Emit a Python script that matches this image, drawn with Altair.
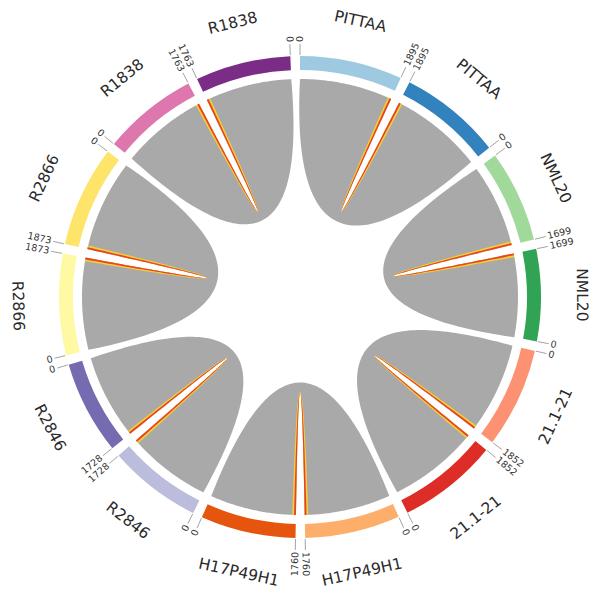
import numpy as np
import pandas as pd
import altair as alt

# ---------------- data ----------------
names = ["PITTAA", "NML20", "21.1-21", "H17P49H1", "R2846", "R2866", "R1838"]
lengths = [1895, 1699, 1852, 1760, 1728, 1873, 1763]
colors_first = ["#9ecae1", "#a1d99b", "#fc9272", "#fdae6b", "#bcbddc", "#fff9a3", "#de77ae"]
colors_second = ["#3182bd", "#31a354", "#de2d26", "#e6550d", "#756bb1", "#fee468", "#7b2c87"]
link_color = "#a9a9a9"
edge_spans = [72, 38]            # width (in sequence units) of highlighted link ends
edge_colors = ["#f5d130", "#e8432a"]
gap = 176                         # gap between segments (sequence units)

# ---------------- layout parameters ----------------
R_OUT, R_IN, R_LINK = 241, 227, 218
BEZ_SHIFT = 28
W, H = 584, 581
CX, CY = 292, 289

segs = []
cur = 0
for i, (nm, L) in enumerate(zip(names, lengths)):
    for k, col in enumerate([colors_first[i], colors_second[i]]):
        segs.append(dict(name=nm, pair=i, copy=k, L=L, start=cur, end=cur + L, color=col))
        cur += L + gap
total = cur
seg_df = pd.DataFrame(segs)


def deg(u):
    return u / total * 360.0


def pt(theta, r):
    t = np.radians(theta)
    return np.array([r * np.sin(t), r * np.cos(t)])


def arc_pts(t0, t1, r, n=60):
    return [pt(t, r) for t in np.linspace(t0, t1, n)]


def bez_pts(t0, t1, r, n=90):
    p0, p2 = pt(t0, r), pt(t1, r)
    m = (p0 + p2) / 2
    mu = m / np.linalg.norm(m)
    c = -BEZ_SHIFT * mu
    s = np.linspace(0, 1, n)[:, None]
    return list((1 - s) ** 2 * p0 + 2 * (1 - s) * s * c + s ** 2 * p2)


def ribbon(i, p0, p1):
    a = segs[2 * i]
    b = segs[2 * i + 1]
    ta = lambda p: deg(a["start"] + p)
    tb = lambda p: deg(b["end"] - p)
    pts = (arc_pts(ta(p0), ta(p1), R_LINK) + bez_pts(ta(p1), tb(p1), R_LINK)
           + arc_pts(tb(p1), tb(p0), R_LINK) + bez_pts(tb(p0), ta(p0), R_LINK))
    return pts


def ribbon_df(kind_rows):
    rows = []
    for rid, (i, p0, p1, col) in enumerate(kind_rows):
        for j, (x, y) in enumerate(ribbon(i, p0, p1)):
            rows.append(dict(rid=rid, ord=j, x=x, y=y, col=col))
    return pd.DataFrame(rows)


gray_df = ribbon_df([(i, 0, L, link_color) for i, L in enumerate(lengths)])
edge_dfs = [ribbon_df([(i, L - w, L, c) for i, L in enumerate(lengths)])
            for w, c in zip(edge_spans, edge_colors)]

# ticks
ticks = []
for s in segs:
    for pos_u, lab in [(s["start"], 0 if s["copy"] == 0 else s["L"]),
                       (s["end"], s["L"] if s["copy"] == 0 else 0)]:
        th = deg(pos_u)
        p1, p2, p3 = pt(th, R_OUT + 1), pt(th, R_OUT + 12), pt(th, R_OUT + 14)
        right = th < 180
        ticks.append(dict(x=p1[0], y=p1[1], x2=p2[0], y2=p2[1], tx=p3[0], ty=p3[1],
                          label=str(lab), rot=(th - 90) % 360 if right else (th + 90) % 360,
                          side="r" if right else "l"))
tick_df = pd.DataFrame(ticks)

labs = []
for s in segs:
    th = deg((s["start"] + s["end"]) / 2)
    p = pt(th, 282)
    rot = th if (th < 90 or th > 270) else th - 180
    labs.append(dict(x=p[0], y=p[1], label=s["name"], rot=rot % 360))
lab_df = pd.DataFrame(labs)

xs = alt.Scale(domain=[-CX, W - CX])
ys = alt.Scale(domain=[-(H - CY), CY])
X = lambda f: alt.X(f, type="quantitative", scale=xs, axis=None)
Y = lambda f: alt.Y(f, type="quantitative", scale=ys, axis=None)


def poly_layer(df):
    return alt.Chart(df).mark_line(filled=True, strokeWidth=0).encode(
        x=X("x"), y=Y("y"), detail="rid:N", order="ord:Q",
        color=alt.Color("col:N", scale=None))


gray_layer = poly_layer(gray_df)
edge_layers = [poly_layer(d) for d in edge_dfs]

ring = alt.Chart(seg_df).mark_arc(radius=R_OUT, radius2=R_IN).encode(
    x=alt.XDatum(0, type="quantitative", scale=xs, axis=None),
    y=alt.YDatum(0, type="quantitative", scale=ys, axis=None),
    theta=alt.Theta("start:Q", scale=alt.Scale(domain=[0, total], range=[0, 2 * np.pi]), stack=None),
    theta2="end:Q",
    color=alt.Color("color:N", scale=None),
)

tick_rules = alt.Chart(tick_df).mark_rule(color="#8a8a8a", strokeWidth=0.8).encode(
    x=X("x"), y=Y("y"), x2="x2:Q", y2="y2:Q")

tick_r = alt.Chart(tick_df[tick_df.side == "r"]).mark_text(
    align="left", baseline="middle", fontSize=9.5, font="DejaVu Sans", color="#333333").encode(
    x=X("tx"), y=Y("ty"), text="label:N", angle=alt.Angle("rot:Q", scale=None))
tick_l = alt.Chart(tick_df[tick_df.side == "l"]).mark_text(
    align="right", baseline="middle", fontSize=9.5, font="DejaVu Sans", color="#333333").encode(
    x=X("tx"), y=Y("ty"), text="label:N", angle=alt.Angle("rot:Q", scale=None))

names_layer = alt.Chart(lab_df).mark_text(
    align="center", baseline="middle", fontSize=15.5, font="DejaVu Sans", color="#2a2a2a").encode(
    x=X("x"), y=Y("y"), text="label:N", angle=alt.Angle("rot:Q", scale=None))

chart = alt.layer(gray_layer, *edge_layers, ring, tick_rules, tick_r, tick_l, names_layer).properties(
    width=W, height=H, padding=0, autosize=alt.AutoSizeParams(type="none")
).configure_view(stroke=None)

chart.save("out.html", embed_options={"renderer": "svg", "actions": False})
